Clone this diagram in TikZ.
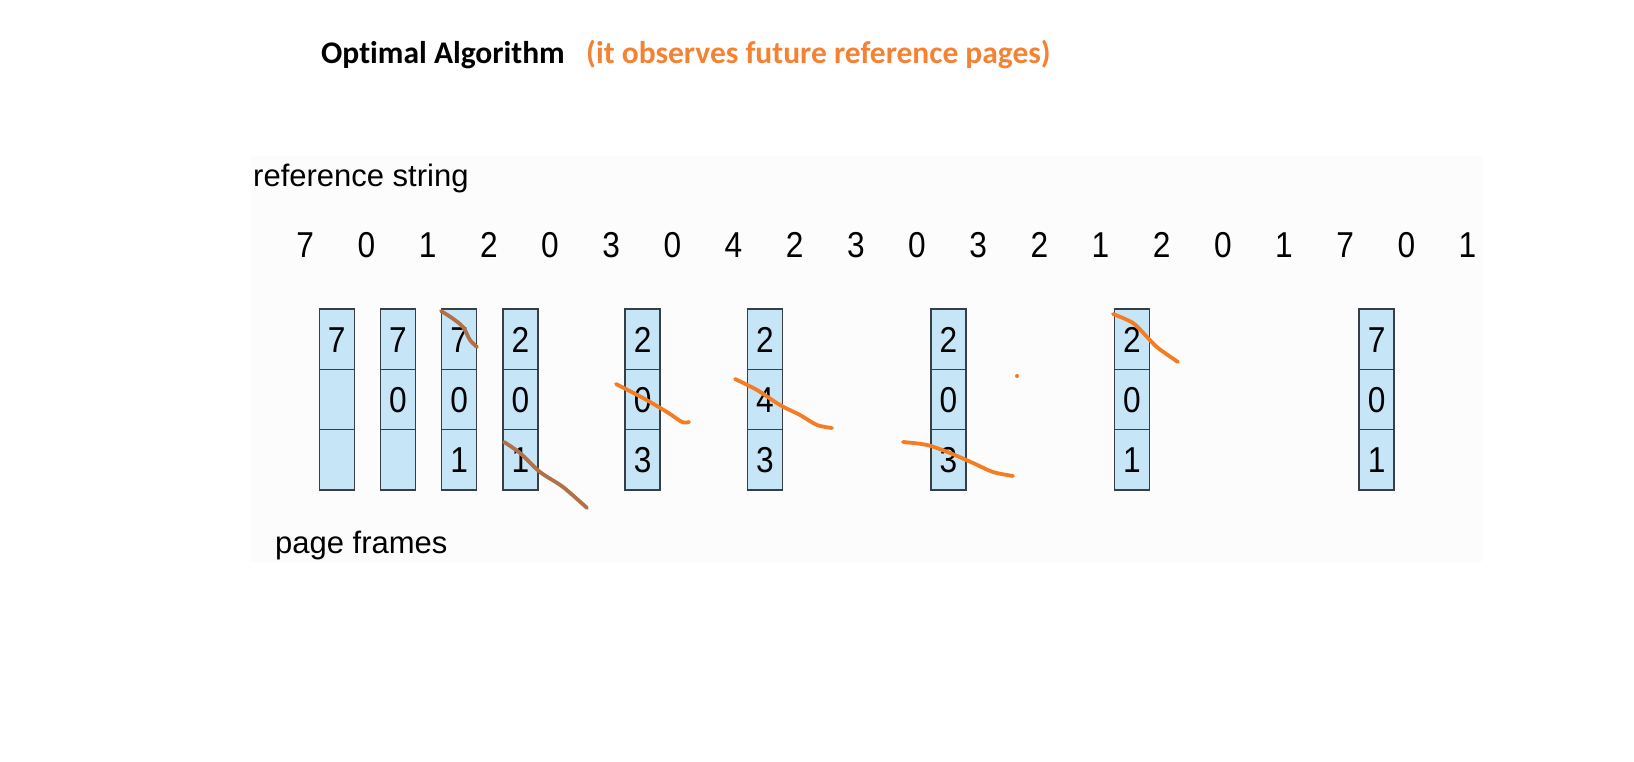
\documentclass[tikz,border=0pt]{standalone}
\usepackage{fontspec}
\setmainfont{Liberation Sans}
\newfontfamily\titlefont{Carlito}[Ligatures=NoCommon]
\newfontfamily\digitfont{Liberation Sans}[FakeStretch=0.88]
\usepackage{xcolor}
\usepackage{tikz}
\usetikzlibrary{positioning}

\definecolor{framefill}{RGB}{198,230,248}
\definecolor{frameline}{RGB}{55,62,70}
\definecolor{penorange}{RGB}{244,125,35}
\definecolor{penbrown}{RGB}{178,112,72}
\definecolor{noteorange}{RGB}{245,130,50}
\definecolor{paper}{RGB}{252,252,252}

\begin{document}
\begin{tikzpicture}[x=1pt, y=-1pt,
        cell/.style={draw=frameline, line width=1.6pt, fill=framefill, outer sep=0pt,
                     minimum width=35pt, minimum height=60.3pt, inner sep=0pt,
                     text height=25.8pt, text depth=0pt,
                     font=\digitfont\fontsize{36}{36}\selectfont},
        refnum/.style={inner sep=0pt, text height=25.8pt, text depth=0pt,
                       font=\digitfont\fontsize{36}{36}\selectfont},
        lbl/.style={anchor=base west, inner sep=0pt, font=\fontsize{31}{31}\selectfont},
        pen/.style={line width=3.8pt, line cap=round, line join=round}
    ]
        \useasboundingbox (0,0) rectangle (1634,762);
        \fill[paper] (250,156) rectangle (1482,562);

        % heading
        \node[lbl, font=\titlefont\fontsize{31.5}{32}\selectfont\bfseries] (title) at (321,64) {Optimal Algorithm};
        \node[lbl, font=\titlefont\fontsize{31.5}{32}\selectfont\bfseries, text=noteorange] (note) at (586,64) {(it observes future reference pages)};

        \node[lbl] (refstr) at (253,187) {reference string};
        \node[lbl] (pages)  at (275,553) {page frames};

        % reference string
        \foreach \v [count=\i from 0] in {7,0,1,2,0,3,0,4,2,3,0,3,2,1,2,0,1,7,0,1}
            \node[refnum] (r\i) at ({305.3+61.17*\i},244.5) {\v};

        % page frames after each fault
        \foreach \i/\a/\b/\c in {0/7/{}/{}, 1/7/0/{}, 2/7/0/1, 3/2/0/1, 5/2/0/3,
                                  7/2/4/3, 10/2/0/3, 13/2/0/1, 17/7/0/1} {
            \node[cell] (fr\i a) at ({336.8+61.17*\i},339.2) {\a};
            \node[cell, below=0pt of fr\i a] (fr\i b) {\b};
            \node[cell, below=0pt of fr\i b] (fr\i c) {\c};
        }

        % hand marks
        \draw[pen, penbrown] plot[smooth] coordinates {(441,311) (452,318) (463,327) (470,340) (477,347)};
        \draw[pen, penbrown] plot[smooth] coordinates {(504,442) (520,453) (540,472) (563,487) (587,508)};
        \draw[pen, penorange] plot[smooth] coordinates {(616,384) (643,398) (667,412) (682,422) (689,422)};
        \draw[pen, penorange] plot[smooth] coordinates {(735,379) (757,390) (780,405) (800,415) (817,425) (832,428)};
        \draw[pen, penorange] plot[smooth] coordinates {(903,442) (927,445) (950,453) (973,463) (993,472) (1013,476)};
        \fill[penorange] (1017,376) circle (2pt);
        \draw[pen, penorange] plot[smooth] coordinates {(1113,314) (1133,323) (1147,337) (1158,348) (1178,362)};
    \end{tikzpicture}
\end{document}
